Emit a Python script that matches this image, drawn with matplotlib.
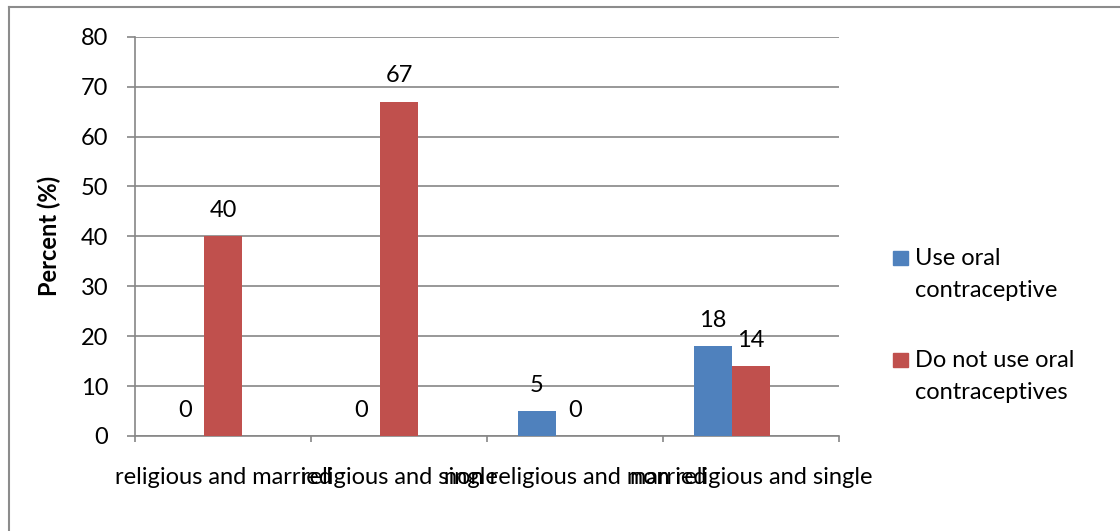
import matplotlib
matplotlib.use("Agg")
import matplotlib.pyplot as plt
from matplotlib.lines import Line2D
from matplotlib.patches import Rectangle
import numpy as np

plt.rcParams['font.family'] = ['Lato', 'DejaVu Sans']

categories = ["religious and married", "religious and single",
              "non religious and married", "non religious and single"]
use_oral = [0, 0, 5, 18]
not_use_oral = [40, 67, 0, 14]
series_names = ["Use oral\ncontraceptive", "Do not use oral\ncontraceptives"]
yticks = [0, 10, 20, 30, 40, 50, 60, 70, 80]

BLUE = "#4F81BD"
RED = "#C0504D"
GRID = "#868686"
FS = 17

W, H = 1120, 531
fig = plt.figure(figsize=(W / 100, H / 100), dpi=100)
ax = fig.add_axes([135 / W, 1 - 436 / H, (839 - 135) / W, (436 - 36.7) / H])

x = np.arange(len(categories))
bw = 38 / 176
ax.bar(x - bw, use_oral, width=bw, color=BLUE, align='center', zorder=3)
ax.bar(x, not_use_oral, width=bw, color=RED, align='center', zorder=3)

for xi, v in zip(x, use_oral):
    ax.annotate(str(v), (xi - bw, v), xytext=(0, 18.7), textcoords='offset points',
                ha='center', va='center', fontsize=FS)
for xi, v in zip(x, not_use_oral):
    ax.annotate(str(v), (xi, v), xytext=(0, 18.7), textcoords='offset points',
                ha='center', va='center', fontsize=FS)

ax.set_xlim(-0.5, len(categories) - 0.5)
ax.set_ylim(0, 80)
ax.set_yticks(yticks)
ax.set_yticklabels([str(t) for t in yticks], fontsize=FS)
ax.yaxis.grid(True, color=GRID, linewidth=1.2, zorder=0)
ax.set_axisbelow(True)

ax.set_xticks(x)
ax.set_xticklabels(categories, fontsize=FS)
ax.tick_params(axis='x', which='major', length=0, pad=22)
ax.set_xticks(np.arange(-0.5, len(categories)), minor=True)
ax.tick_params(axis='x', which='minor', length=4.3, color=GRID, width=1.2)
ax.tick_params(axis='y', length=5.8, color=GRID, width=1.2, pad=13.5)

for s in ['top', 'right']:
    ax.spines[s].set_visible(False)
for s in ['left', 'bottom']:
    ax.spines[s].set_color(GRID)
    ax.spines[s].set_linewidth(1.2)

fig.text(49 / W, 1 - 236 / H, "Percent (%)", rotation=90, ha='center', va='center',
         fontsize=FS, fontweight='bold')

# legend drawn manually
fig.patches.append(Rectangle((893 / W, 1 - 265 / H), 15 / W, 14 / H,
                             transform=fig.transFigure, color=BLUE, figure=fig))
fig.patches.append(Rectangle((893 / W, 1 - 367 / H), 15 / W, 14 / H,
                             transform=fig.transFigure, color=RED, figure=fig))
for name, base in zip(series_names, [265, 367]):
    for k, line in enumerate(name.split("\n")):
        fig.text(915 / W, 1 - (base + 32 * k) / H, line, ha='left', va='baseline', fontsize=FS)

# chart border (only top and left visible)
fig.add_artist(Line2D([8.5 / W, 8.5 / W], [0, 1 - 7 / H], transform=fig.transFigure,
                      color="#8C8C8C", linewidth=1.5))
fig.add_artist(Line2D([8.5 / W, 1], [1 - 7 / H, 1 - 7 / H], transform=fig.transFigure,
                      color="#8C8C8C", linewidth=1.5))

fig.savefig("out.png", dpi=100, facecolor='white')
